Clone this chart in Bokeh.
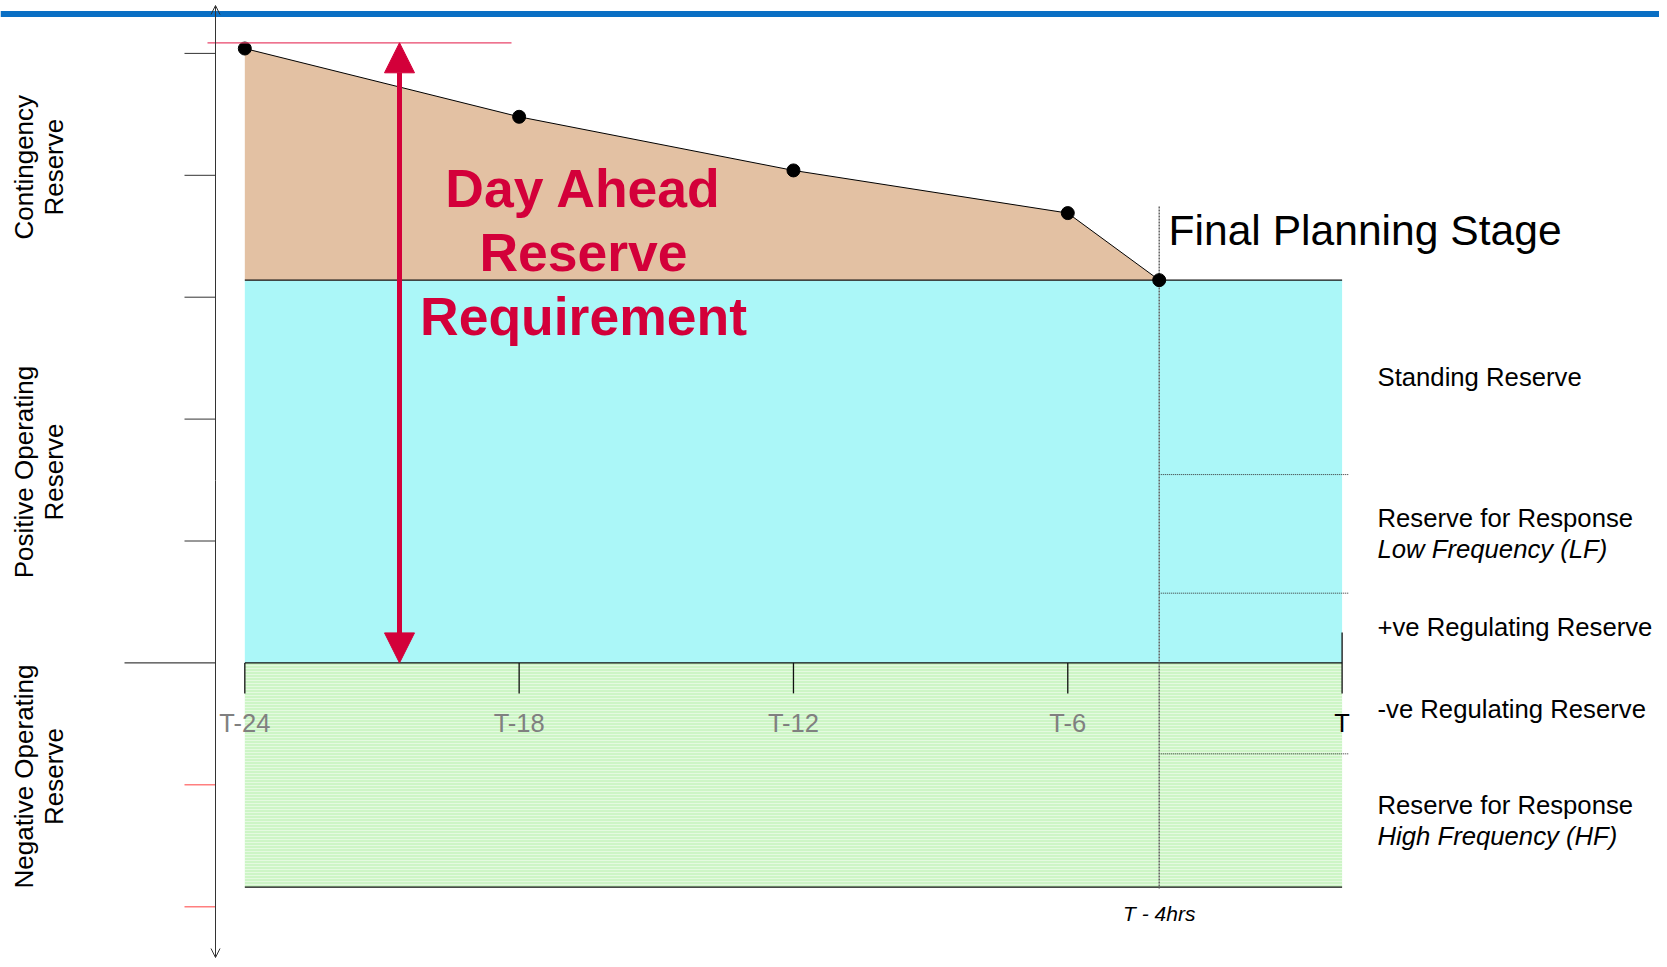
import math
from bokeh.plotting import figure
from bokeh.models import Range1d, Arrow, NormalHead, OpenHead, Span
from bokeh.core.properties import value
from bokeh.embed import file_html
from bokeh.resources import INLINE

# ---------------- data ----------------
hours = [-24, -18, -12, -6, -4]              # planning stages (hours before T)
requirement = [5.04, 4.48, 4.04, 3.69, 3.14]  # day-ahead reserve requirement
final_hour = -4                              # final planning stage T - 4hrs
horizon_end = 0                              # delivery time T
positive_level = 3.14                        # top of positive operating reserve
negative_level = -1.84                       # bottom of negative operating reserve
band_edges = [1.545, 0.572, -0.746]          # dotted boundaries after T-4
x_tick_hours = [-24, -18, -12, -6, 0]
x_tick_labels = ["T-24", "T-18", "T-12", "T-6", "T"]
y_ticks = [5, 4, 3, 2, 1, 0, -1, -2]
band_names = ["Standing Reserve", "Reserve for Response", "Low Frequency (LF)",
              "+ve Regulating Reserve", "-ve Regulating Reserve",
              "Reserve for Response", "High Frequency (HF)"]
band_italic = [False, False, True, False, False, False, True]
side_names = [("Contingency", "Reserve"), ("Positive Operating", "Reserve"),
              ("Negative Operating", "Reserve")]

# ---------------- layout helpers (pixel -> data) ----------------
X0, PXH = 1341.6, 45.72
Y0, PXV = 662.4, 121.9
def hx(xr): return (xr - X0) / PXH
def vy(yr): return (Y0 - yr) / PXV

W, H = 1659, 959
FONT = value("Liberation Sans")
RED = "#D3003A"

p = figure(width=W, height=H, output_backend="svg", toolbar_location=None,
           x_range=Range1d(hx(0), hx(W)), y_range=Range1d(vy(H), vy(0)),
           x_axis_type=None, y_axis_type=None, min_border=0,
           outline_line_color=None, background_fill_color="white")
p.grid.visible = False

# top blue rule
p.add_layout(Span(location=vy(13.5), dimension="width", line_color="#0A6FC4", line_width=6))

x_left = hours[0]
# negative operating reserve (green)
p.quad(left=x_left, right=horizon_end, bottom=negative_level, top=0,
       fill_color="#CDF5C6", line_color=None,
       hatch_pattern="horizontal_line", hatch_color="white", hatch_scale=3,
       hatch_weight=1, hatch_alpha=0.45)
# positive operating reserve (cyan)
p.quad(left=x_left, right=horizon_end, bottom=0, top=positive_level,
       fill_color="#ABF7F8", line_color=None)
# contingency reserve (tan)
p.patch(hours + [final_hour, x_left], requirement + [positive_level, positive_level],
        fill_color="#E3C1A3", line_color=None)
p.line(hours, requirement, line_color="black", line_width=1)

# horizontal boundary lines
p.segment(x0=[x_left, x_left, x_left], x1=[horizon_end] * 3,
          y0=[positive_level, 0, negative_level], y1=[positive_level, 0, negative_level],
          line_color="#111111", line_width=1.3)

# dotted band boundaries after final planning stage
p.segment(x0=[final_hour] * 3, x1=[horizon_end + 0.14] * 3, y0=band_edges, y1=band_edges,
          line_color="#333333", line_width=1, line_dash="1 1")
# final planning stage vertical dotted line
p.segment(x0=[final_hour], x1=[final_hour], y0=[vy(206)], y1=[vy(888)],
          line_color="#666666", line_width=1.5, line_dash="2 1")

# x ticks on zero line
tick_len = 0.25
p.segment(x0=x_tick_hours, x1=x_tick_hours,
          y0=[0] * 4 + [tick_len], y1=[-tick_len] * 5,
          line_color="#111111", line_width=1.3)
p.text(x=x_tick_hours, y=[vy(722)] * 5, text=x_tick_labels,
       text_font=FONT, text_font_size="25.5px", text_align="center",
       text_baseline="middle",
       text_color=["#808080"] * 4 + ["black"])

# stage points
p.scatter(hours, requirement, size=13, fill_color="black", line_color="black")

# left vertical axis
ax_x = hx(215)
p.add_layout(Arrow(x_start=ax_x, y_start=vy(480), x_end=ax_x, y_end=vy(5),
                   end=OpenHead(size=9, line_color="#333333", line_width=1),
                   line_color="#333333", line_width=1))
p.add_layout(Arrow(x_start=ax_x, y_start=vy(480), x_end=ax_x, y_end=vy(957),
                   end=OpenHead(size=9, line_color="#333333", line_width=1),
                   line_color="#333333", line_width=1))
yt_pos = [t for t in y_ticks if t > 0]
yt_neg = [t for t in y_ticks if t < 0]
p.segment(x0=[hx(184)] * len(yt_pos), x1=[ax_x] * len(yt_pos), y0=yt_pos, y1=yt_pos,
          line_color="#333333", line_width=1)
p.segment(x0=[hx(124)], x1=[ax_x], y0=[0], y1=[0], line_color="#111111", line_width=1)
p.segment(x0=[hx(184)] * len(yt_neg), x1=[ax_x] * len(yt_neg), y0=yt_neg, y1=yt_neg,
          line_color="#FF7F7F", line_width=1.5)

# red cap line and big double arrow
p.segment(x0=[hx(207)], x1=[hx(511)], y0=[vy(42.3)], y1=[vy(42.3)],
          line_color="#E8446A", line_width=1.2)
arr_x = hx(399)
p.add_layout(Arrow(x_start=arr_x, y_start=0, x_end=arr_x, y_end=vy(42.3),
                   start=NormalHead(size=30, fill_color=RED, line_color=RED),
                   end=NormalHead(size=30, fill_color=RED, line_color=RED),
                   line_color=RED, line_width=5))

# Day Ahead Reserve Requirement
p.text(x=[hx(583)] * 3, y=[vy(188), vy(252), vy(316)],
       text=["Day Ahead", "Reserve", "Requirement"],
       text_font=FONT, text_font_size="53.5px", text_font_style="bold",
       text_color=RED, text_align="center", text_baseline="middle")

# Final planning stage
p.text(x=[hx(1168)], y=[vy(229.6)], text=["Final Planning Stage"],
       text_font=FONT, text_font_size="42.6px", text_color="black",
       text_align="left", text_baseline="middle")
p.text(x=[final_hour], y=[vy(912.5)], text=["T - 4hrs"],
       text_font=FONT, text_font_size="21px", text_font_style="italic",
       text_color="black", text_align="center", text_baseline="middle")

# band labels on the right
band_mid = [376.4, 517.8, 548.6, 626.2, 708, 804.8, 835.7]
for name, it, ym in zip(band_names, band_italic, band_mid):
    p.text(x=[hx(1377)], y=[vy(ym)], text=[name], text_font=FONT,
           text_font_size="25.7px", text_font_style="italic" if it else "normal",
           text_color="black", text_align="left", text_baseline="middle")

# side labels (rotated)
side_center = [166.7, 471.5, 776]
for (l1, l2), yc in zip(side_names, side_center):
    p.text(x=[hx(23.5), hx(53)], y=[vy(yc)] * 2, text=[l1, l2], angle=math.pi / 2,
           text_font=FONT, text_font_size="26px", text_color="black",
           text_align="center", text_baseline="middle")

open("out.html", "w").write(file_html(p, INLINE))
